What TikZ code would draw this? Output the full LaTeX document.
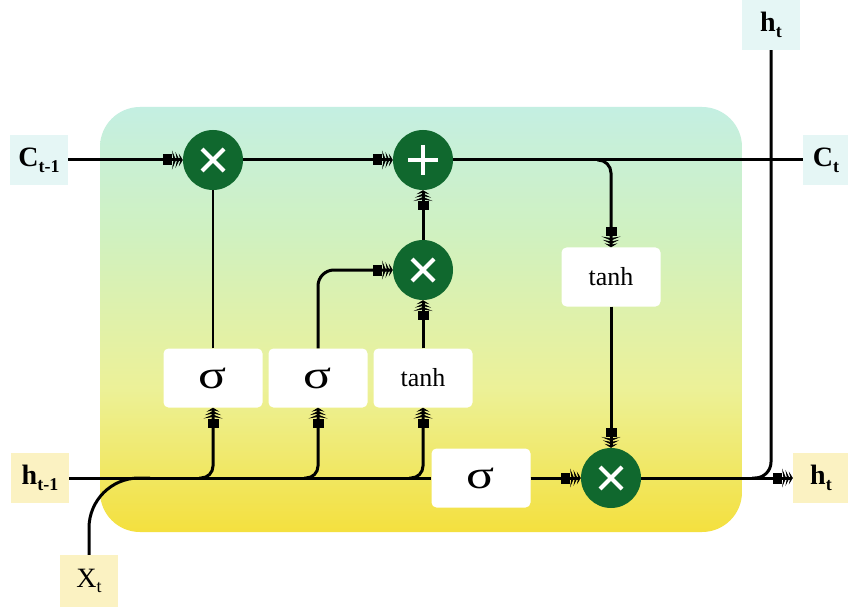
\documentclass[tikz,border=0pt]{standalone}
\usepackage{fontspec}
\setmainfont{Liberation Serif}
\usetikzlibrary{arrows.meta}

\definecolor{gate}{RGB}{16,104,46}
\definecolor{cyanbox}{RGB}{229,246,245}
\definecolor{yelbox}{RGB}{251,242,194}
\definecolor{ybot}{RGB}{244,224,62}
\definecolor{ymid}{RGB}{236,241,152}
\definecolor{gmid}{RGB}{208,241,192}
\definecolor{ctop}{RGB}{196,239,226}

\pgfdeclareverticalshading{cellshade}{100bp}{%
  color(0bp)=(ybot); color(25bp)=(ybot); color(42bp)=(ymid);
  color(60bp)=(gmid); color(75bp)=(ctop); color(100bp)=(ctop)}

\newcommand{\lab}[2]{\textbf{#1}\raisebox{-0.45ex}{\fontsize{18}{18}\selectfont\textbf{#2}}}
\newcommand{\labr}[2]{#1\raisebox{-0.45ex}{\fontsize{18}{18}\selectfont #2}}
\newcommand{\sigmark}{\scalebox{1.3}[1]{σ}}

\tikzset{
  flow/.style={line width=3pt, line cap=butt},
  arr/.style={flow, -{Rectangle[length=9pt,width=11pt]
      Stealth[length=4pt,width=19pt,inset=1.6pt,sep=-0.6pt]
      Stealth[length=4pt,width=16pt,inset=1.6pt,sep=-0.6pt]
      Stealth[length=4pt,width=13pt,inset=1.6pt]}},
  opnode/.style={circle, fill=gate, minimum size=60pt, inner sep=0pt},
  fnbox/.style={rectangle, rounded corners=5pt, fill=white, minimum width=99pt,
      minimum height=59pt, inner sep=0pt},
  sig/.style={fnbox, font=\fontsize{40}{40}\selectfont},
  tnh/.style={fnbox, font=\fontsize{26}{26}\selectfont},
  iobox/.style={rectangle, minimum width=58pt, minimum height=50pt, inner sep=0pt,
      font=\fontsize{28}{28}\selectfont},
}

\newcommand{\timesmark}[1]{%
  \draw[white, line width=4pt] ([shift={(-11,-11)}]#1.center) -- ([shift={(11,11)}]#1.center);
  \draw[white, line width=4pt] ([shift={(-11,11)}]#1.center) -- ([shift={(11,-11)}]#1.center);}
\newcommand{\plusmark}[1]{%
  \draw[white, line width=4.5pt] ([shift={(-15,0)}]#1.center) -- ([shift={(15,0)}]#1.center);
  \draw[white, line width=4.5pt] ([shift={(0,-15)}]#1.center) -- ([shift={(0,15)}]#1.center);}

\begin{document}
\begin{tikzpicture}[x=1pt, y=1pt]
\useasboundingbox (0,0) rectangle (848,606);
\fill[white] (0,0) rectangle (848,606);

% cell body
\shade[shading=cellshade, rounded corners=40pt] (100,74) rectangle (742,499);

\begin{scope}[y=-1pt, yshift=606pt]
  % inputs and outputs
  \node[iobox, fill=cyanbox] (cin) at (39,160) {\lab{C}{t-1}};
  \node[iobox, fill=yelbox] (hin) at (40,478) {\lab{h}{t-1}};
  \node[iobox, fill=yelbox, minimum height=52pt] (xin) at (89,581) {\labr{X}{t}};
  \node[iobox, fill=cyanbox] (htop) at (771,25) {\lab{h}{t}};
  \node[iobox, fill=cyanbox, minimum width=46pt] (cout) at (826,160) {\lab{C}{t}};
  \node[iobox, fill=yelbox, minimum width=56pt] (hout) at (821,478) {\lab{h}{t}};

  % pointwise operations
  \node[opnode] (mf) at (213,160) {};
  \node[opnode] (pl) at (423,160) {};
  \node[opnode] (mi) at (423,270) {};
  \node[opnode] (mo) at (611,478) {};

  % layers
  \node[sig] (sf) at (213,378) {\sigmark};
  \node[sig] (si) at (318,378) {\sigmark};
  \node[tnh] (tc) at (423,378) {tanh};
  \node[sig] (so) at (481,478) {\sigmark};
  \node[tnh] (th) at (611,277) {tanh};

  % junctions
  \coordinate (jx) at (150,478);
  \coordinate (j1) at (199,478);
  \coordinate (j2) at (304,478);
  \coordinate (j3) at (409,478);
  \coordinate (jc) at (597,160);
  \coordinate (jh) at (752,478);

  % cell state line
  \draw[arr] (cin.east) -- (mf);
  \draw[arr] (mf) -- (pl);
  \draw[flow] (pl) -- (cout.west);
  \draw[arr, rounded corners=13pt] (jc) -| (th.north);
  \draw[arr] (th) -- (mo);

  % hidden state line
  \draw[flow] (hin.east) -- (so.west);
  \draw[flow, rounded corners=50pt] (xin.north) |- (jx);
  \draw[arr, rounded corners=12pt] (j1) -| (sf.south);
  \draw[arr, rounded corners=12pt] (j2) -| (si.south);
  \draw[arr, rounded corners=12pt] (j3) -| (tc.south);
  \draw[arr] (so) -- (mo);
  \draw[arr] (mo) -- (hout.west);
  \draw[flow, rounded corners=16pt] (jh) -| (htop.south);

  % gate outputs
  \draw[line width=1.6pt] (sf) -- (mf);
  \draw[arr, rounded corners=16pt] (si.north) |- (mi.west);
  \draw[arr] (tc) -- (mi);
  \draw[arr] (mi) -- (pl);

  % operator symbols
  \timesmark{mf}
  \timesmark{mi}
  \timesmark{mo}
  \plusmark{pl}
\end{scope}
\end{tikzpicture}
\end{document}
